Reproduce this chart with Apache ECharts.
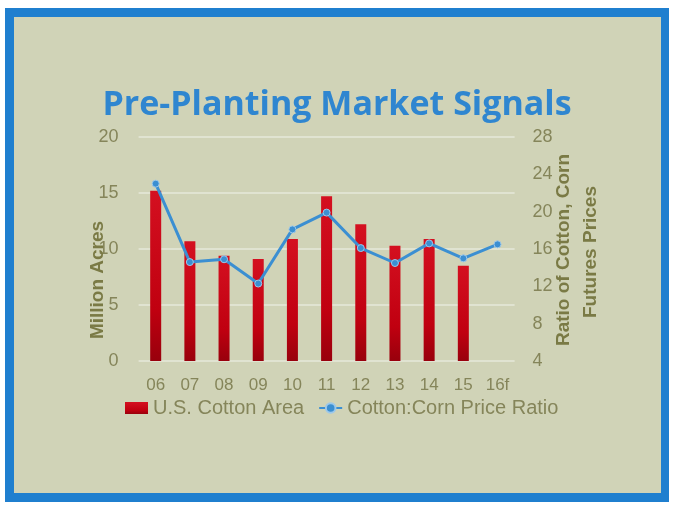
<!DOCTYPE html>
<html><head><meta charset="utf-8">
<script src="https://cdn.jsdelivr.net/npm/echarts@6/dist/echarts.min.js"></script>
<style>html,body{margin:0;padding:0;background:#fff}#c{width:674px;height:506px}</style>
</head><body><div id="c"></div>
<script>
const categories = ['06','07','08','09','10','11','12','13','14','15','16f'];
const cottonArea = [15.2, 10.7, 9.4, 9.1, 10.9, 14.7, 12.2, 10.3, 10.9, 8.5, null];
const priceRatio = [23.0, 14.6, 14.9, 12.3, 18.1, 19.9, 16.1, 14.5, 16.6, 15.0, 16.5];
const leftTicks = {min:0, max:20, interval:5};
const rightTicks = {min:4, max:28, interval:4};
const leftTitle = 'Million Acres';
const rightTitle1 = 'Ratio of Cotton, Corn';
const rightTitle2 = 'Futures Prices';

const txt = '#85855a';
const nameColor = '#7a7a45';
const nameFont = 'bold 19px "Liberation Sans"';
const chart = echarts.init(document.getElementById('c'));
chart.setOption({
  animation:false,
  backgroundColor:'#ffffff',
  graphic:[
    {type:'rect', z:-10, shape:{x:5,y:8,width:664,height:494}, style:{fill:'#1f7fcf'}},
    {type:'rect', z:-9, shape:{x:14,y:17,width:647,height:476}, style:{fill:'#d0d3b7'}},
    {type:'text', x:98, y:280, rotation:Math.PI/2, z:10,
     style:{text:leftTitle, font:nameFont, fill:nameColor, textAlign:'center', textVerticalAlign:'middle'}},
    {type:'text', x:564, y:250, rotation:Math.PI/2, z:10,
     style:{text:rightTitle1, font:nameFont, fill:nameColor, textAlign:'center', textVerticalAlign:'middle'}},
    {type:'text', x:591, y:252, rotation:Math.PI/2, z:10,
     style:{text:rightTitle2, font:nameFont, fill:nameColor, textAlign:'center', textVerticalAlign:'middle'}}
  ],
  title:{text:'Pre-Planting Market Signals', left:'center', top:83,
    textStyle:{fontFamily:'Open Sans', fontWeight:'bold', fontSize:34, color:'#2f86d0'}},
  grid:{left:138.6, right:159.4, top:137, bottom:145, containLabel:false},
  legend:{left:120, top:393, itemWidth:23, itemHeight:12, itemGap:14,
    textStyle:{color:txt, fontSize:20, fontFamily:'Liberation Sans'},
    data:[{name:'U.S. Cotton Area', icon:'rect'}, {name:'Cotton:Corn Price Ratio'}]},
  xAxis:{type:'category', data:categories, axisLine:{show:false}, axisTick:{show:false},
    axisLabel:{color:txt, fontSize:17, margin:16, fontFamily:'Liberation Sans'}},
  yAxis:[
    {type:'value', min:leftTicks.min, max:leftTicks.max, interval:leftTicks.interval,
     axisLabel:{color:txt, fontSize:18, margin:20, fontFamily:'Liberation Sans'},
     axisLine:{show:false}, axisTick:{show:false},
     splitLine:{lineStyle:{color:'#e6e8da', width:1.5}}},
    {type:'value', min:rightTicks.min, max:rightTicks.max, interval:rightTicks.interval,
     axisLabel:{color:txt, fontSize:18, margin:18, fontFamily:'Liberation Sans'},
     axisLine:{show:false}, axisTick:{show:false}, splitLine:{show:false}}
  ],
  series:[
    {name:'U.S. Cotton Area', type:'bar', yAxisIndex:0, data:cottonArea, barWidth:11,
     itemStyle:{color:new echarts.graphic.LinearGradient(0,0,0,1,[{offset:0,color:'#d41020'},{offset:0.7,color:'#c00010'},{offset:1,color:'#98000c'}])}},
    {name:'Cotton:Corn Price Ratio', type:'line', yAxisIndex:1, data:priceRatio,
     symbol:'circle', symbolSize:7, lineStyle:{color:'#3b8fd2', width:3},
     itemStyle:{color:'#3b8fd2', borderColor:'#9cc8ea', borderWidth:1}}
  ]
});
</script></body></html>
